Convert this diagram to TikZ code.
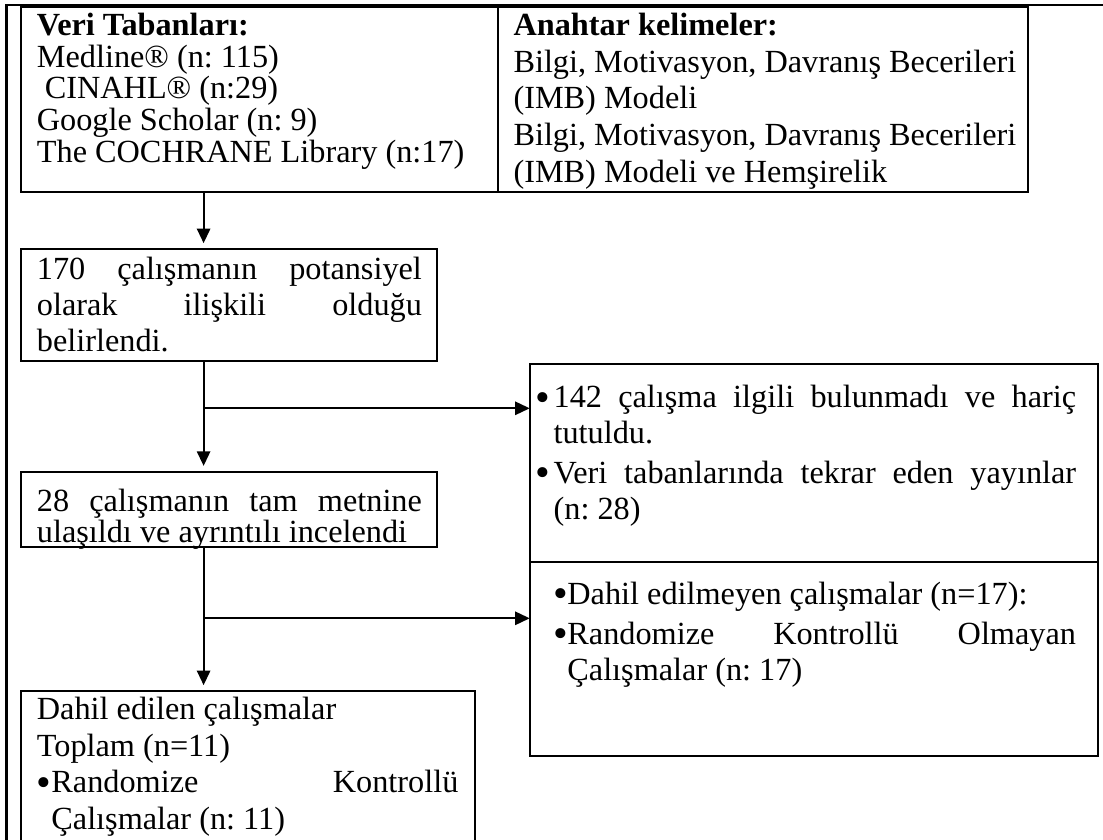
\documentclass[tikz,border=0pt]{standalone}
\usepackage{fontspec}
\setmainfont{Liberation Serif}
\usetikzlibrary{positioning,arrows.meta}
\frenchspacing
\newcommand{\blt}[1]{\makebox[#1][l]{\raisebox{-0.1em}{\scalebox{1.3}{\textbullet}}}}

\begin{document}
\begin{tikzpicture}[
    x = 0.378pt, y = -0.378pt,
    > = {Triangle[length=5.5pt,width=5pt]},
    semithick,
    box/.style={draw, line width=0.8pt, rectangle, inner ysep=0pt, outer sep=0pt, anchor=north west,
                execute at begin node={\spaceskip=0pt\xspaceskip=0pt\relax}},
    tightlines/.style={font=\fontsize{12.2pt}{11.98pt}\selectfont},
    midlines/.style={font=\fontsize{12.2pt}{13.53pt}\selectfont},
    looselines/.style={font=\fontsize{12.2pt}{13.87pt}\selectfont},
    link/.style={->, line width=0.8pt},
    down/.style={link, shorten >=2.2pt},
    frame/.style={line width=1.1pt}
]
    \useasboundingbox (0,0) rectangle (1103,839);
    \draw[frame] (6.4,850) -- (6.4,5) -- (1110,5);

    % search sources and keywords
    \node[box, tightlines, align=left, text width=168.44pt, inner xsep=5.86pt,
          text height=10.77pt, text depth=59.16pt] (db) at (21.4,7)
        {\textbf{Veri Tabanları:}\\
         Medline® (n: 115)\\
         \hspace*{3pt}CINAHL® (n:29)\\
         Google Scholar (n: 9)\\
         The COCHRANE Library (n:17)};
    \node[box, looselines, align=left, text width=188.62pt, inner xsep=5.86pt,
          text height=10.77pt, text depth=59.16pt] (kw) at (db.north east)
        {\textbf{Anahtar kelimeler:}\\
         \mbox{Bilgi, Motivasyon, Davranış Becerileri}\\
         (IMB) Modeli\\
         \mbox{Bilgi, Motivasyon, Davranış Becerileri}\\
         (IMB) Modeli ve Hemşirelik};

    % screening chain
    \node[box, midlines, align=justify, text width=145.53pt, inner xsep=5.86pt,
          text height=11.53pt, text depth=30.81pt,
          below=21.55pt of db.south west, anchor=north west] (pot)
        {\tolerance=10000
         170 çalışmanın potansiyel\linebreak
         olarak ilişkili olduğu\linebreak
         belirlendi.};
    \node[box, tightlines, align=justify, text width=145.53pt, inner xsep=5.86pt,
          text height=14.93pt, text depth=13.65pt,
          below=41.84pt of pot.south west, anchor=north west] (full)
        {\tolerance=10000
         28 çalışmanın tam metnine\linebreak
         ulaşıldı ve ayrıntılı incelendi};
    \node[box, looselines, align=left, text width=159.89pt, inner xsep=5.86pt,
          text height=10.77pt, text depth=52.92pt,
          below=54.32pt of full.south west, anchor=north west] (incl)
        {Dahil edilen çalışmalar\\
         Toplam (n=11)\\
         \blt{5.48pt}\makebox[153.85pt][s]{Randomize Kontrollü}\\
         \hspace*{5.48pt}Çalışmalar (n: 11)};

    % excluded records
    \node[box, midlines, align=left, text width=210.28pt, inner xsep=2.27pt,
          text height=16.44pt, text depth=58.17pt] (excl1) at (529.7,364.3)
        {\blt{6.77pt}\makebox[197.5pt][s]{142 çalışma ilgili bulunmadı ve hariç}\\
         \hspace*{6.77pt}tutuldu.\\[1.51pt]
         \blt{6.77pt}\makebox[197.5pt][s]{Veri tabanlarında tekrar eden yayınlar}\\
         \hspace*{6.77pt}(n: 28)};
    \node[box, midlines, align=left, text width=210.28pt, inner xsep=2.27pt,
          text height=16.18pt, text depth=57.27pt,
          below=0pt of excl1.south west, anchor=north west] (excl2)
        {\hspace*{6.73pt}\blt{5.25pt}Dahil edilmeyen çalışmalar (n=17):\\[1.51pt]
         \hspace*{6.73pt}\blt{5.25pt}\makebox[192.25pt][s]{Randomize Kontrollü Olmayan}\\
         \hspace*{11.98pt}Çalışmalar (n: 17)};

    \coordinate (spine) at (203.6,0);
    \coordinate (br1) at (203.6,408.3);
    \coordinate (br2) at (203.6,618.3);

    \draw[down] (spine |- db.south) -- (spine |- pot.north);
    \draw[down] (spine |- pot.south) -- (spine |- full.north);
    \draw[link] (br1) -- (br1 -| excl1.west);
    \draw[down] (spine |- full.south) -- (spine |- incl.north);
    \draw[link] (br2) -- (br2 -| excl2.west);
\end{tikzpicture}
\end{document}
